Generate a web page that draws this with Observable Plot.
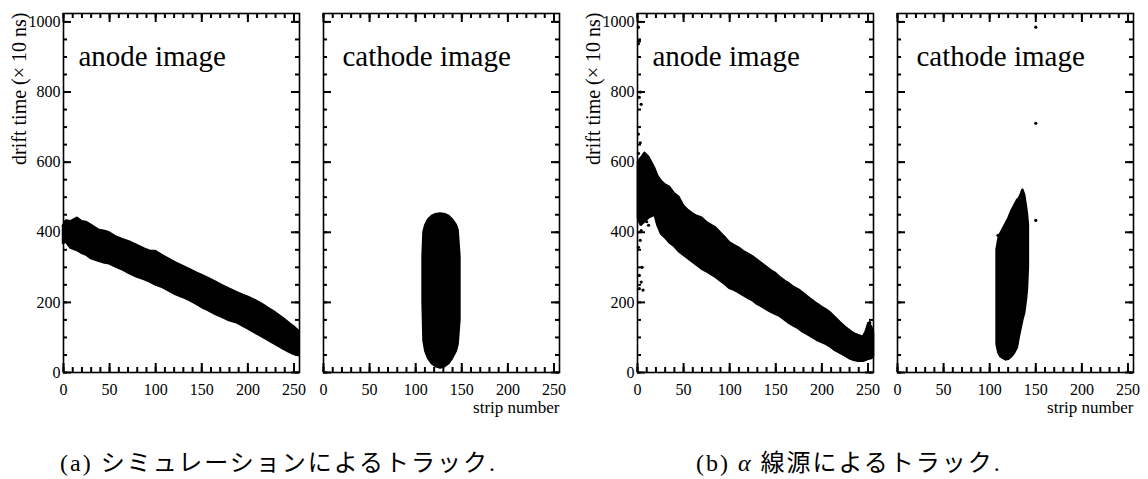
<!DOCTYPE html>
<html>
<head>
<meta charset="utf-8">
<script src="https://cdn.jsdelivr.net/npm/d3@7"></script>
<script src="https://cdn.jsdelivr.net/npm/@observablehq/plot@0.6"></script>
<style>
  body { margin: 0; background: #fff; }
  #wrap { position: relative; width: 1148px; height: 479px; background: #fff; color: #000; }
  #charts { position: absolute; left: 0; top: 0; width: 1148px; height: 420px; }
  #charts svg { position: absolute; left: 0; top: 0; pointer-events: none; }
  .caption {
    position: absolute; top: 450px; line-height: 26px; white-space: nowrap;
    font-family: "Liberation Serif", "Noto Sans CJK JP", serif; font-size: 24px; letter-spacing: 2px; color: #000;
  }
  .caption i { font-family: "Liberation Serif", serif; }
</style>
</head>
<body>
<div id="wrap">
  <div id="charts"></div>
  <div class="caption" style="left:60px">(a) シミュレーションによるトラック.</div>
  <div class="caption" style="left:696px">(b) <i>α</i> 線源によるトラック.</div>
</div>
<script>
// Axis ticks and titles
const stripMajor = [0, 50, 100, 150, 200, 250];
const stripMinor = d3.range(0, 256, 10);
const timeMajor = [0, 200, 400, 600, 800, 1000];
const timeMinor = d3.range(0, 1024, 50);
const yTitle = "drift time (× 10 ns)";
const xTitle = "strip number";

// Simulated track, anode strips: drift-time band covered by hits on each strip
const simAnodeStrip = [0, 3, 8, 15, 20, 25, 30, 38, 45, 50, 58, 65, 72, 80, 88, 95, 100, 108, 115, 122, 130, 138, 145, 150, 158, 165, 172, 180, 188, 195, 200, 208, 215, 222, 230, 238, 245, 250, 255];
const simAnodeLo    = [368, 372, 355, 348, 340, 335, 325, 318, 312, 310, 300, 292, 282, 272, 265, 257, 250, 242, 232, 222, 214, 204, 194, 186, 176, 166, 158, 148, 142, 132, 125, 113, 103, 92, 80, 68, 58, 52, 48];
const simAnodeHi    = [418, 432, 430, 440, 430, 428, 420, 406, 402, 398, 385, 378, 372, 362, 352, 345, 345, 332, 322, 312, 302, 292, 283, 277, 267, 258, 248, 238, 228, 220, 215, 205, 195, 183, 170, 155, 140, 130, 118];

// Simulated track, cathode strips
const simCathodeStrip = [108, 109, 111, 114, 118, 122, 127, 132, 136, 140, 144, 146, 148];
const simCathodeLo    = [200, 90, 60, 40, 25, 17, 13, 17, 25, 40, 60, 80, 150];
const simCathodeHi    = [330, 400, 420, 435, 445, 450, 452, 450, 445, 435, 420, 405, 330];

// Alpha-source track, anode strips
const alphaAnodeStrip = [1, 4, 8, 12, 16, 19, 22, 26, 30, 35, 40, 45, 50, 55, 60, 65, 70, 75, 80, 85, 90, 95, 100, 105, 110, 115, 120, 125, 130, 135, 140, 145, 150, 155, 160, 165, 170, 175, 180, 185, 190, 195, 200, 205, 210, 215, 220, 225, 230, 235, 240, 245, 248, 251, 254, 256];
const alphaAnodeLo    = [440, 420, 430, 440, 445, 450, 420, 395, 385, 370, 360, 345, 335, 325, 315, 305, 295, 288, 280, 272, 262, 252, 240, 235, 228, 220, 212, 205, 195, 188, 180, 172, 166, 160, 150, 140, 132, 125, 115, 108, 100, 92, 86, 80, 72, 62, 55, 48, 40, 35, 32, 32, 35, 38, 40, 45];
const alphaAnodeHi    = [600, 610, 625, 615, 595, 580, 560, 545, 535, 528, 510, 500, 475, 462, 452, 445, 440, 428, 420, 412, 398, 385, 370, 362, 355, 345, 338, 330, 320, 310, 300, 290, 282, 270, 260, 252, 242, 235, 225, 215, 205, 195, 186, 178, 168, 155, 142, 130, 120, 110, 105, 100, 115, 140, 130, 110];
// isolated hits near the edge strips
const alphaAnodeDotStrip = [1, 2, 1, 3, 2, 4, 1, 3, 1, 2, 4, 3, 1, 5, 2, 4, 2, 6, 10, 12, 252, 253];
const alphaAnodeDotTime  = [985, 945, 938, 800, 785, 765, 680, 655, 625, 434, 405, 377, 357, 300, 277, 258, 239, 235, 430, 420, 142, 125];

// Alpha-source track, cathode strips
const alphaCathodeStrip = [108, 110, 112, 115, 118, 121, 124, 127, 130, 132, 134, 136, 138, 140, 141, 142];
const alphaCathodeLo    = [80, 55, 45, 40, 36, 38, 45, 55, 70, 100, 125, 150, 170, 210, 240, 300];
const alphaCathodeHi    = [350, 380, 395, 410, 425, 440, 460, 475, 490, 495, 505, 520, 505, 470, 450, 420];
const alphaCathodeDotStrip = [150, 150, 150, 109];
const alphaCathodeDotTime  = [985, 711, 434, 391];

const band = (s, lo, hi) => s.map((strip, i) => ({strip, lo: lo[i], hi: hi[i]}));
const dots = (s, t) => s.map((strip, i) => ({strip, time: t[i]}));

const W = 1148, H = 420, TOP = 13, BOTTOM = 372;
const FRAME_H = BOTTOM - TOP;
const X_MAX = 256, Y_MAX = 1024;

// Inward tick marks on all four sides; a tick of `len` pixels expressed in data units
function ticks(values, side, len, frameW) {
  const o = {stroke: "black", strokeWidth: 2};
  const dy = len * Y_MAX / FRAME_H, dx = len * X_MAX / frameW;
  switch (side) {
    case "bottom": return Plot.ruleX(values, {...o, x: d => d, y1: 0, y2: dy});
    case "top": return Plot.ruleX(values, {...o, x: d => d, y1: Y_MAX - dy, y2: Y_MAX});
    case "left": return Plot.ruleY(values, {...o, y: d => d, x1: 0, x2: dx});
    case "right": return Plot.ruleY(values, {...o, y: d => d, x1: X_MAX - dx, x2: X_MAX});
  }
}

function panel({left, right, title, titleDx, data, hits, yLabels, xLabel}) {
  const fw = right - left;
  const marks = [
    Plot.areaY(data, {x: "strip", y1: "lo", y2: "hi", fill: "black", stroke: "black", strokeWidth: 2.5, strokeLinejoin: "round", curve: "linear"})
  ];
  if (hits) marks.push(Plot.dot(hits, {x: "strip", y: "time", r: 1.6, fill: "black"}));
  marks.push(
    ticks(stripMinor, "bottom", 5, fw), ticks(stripMajor, "bottom", 9, fw),
    ticks(stripMinor, "top", 5, fw), ticks(stripMajor, "top", 9, fw),
    ticks(timeMinor, "left", 4, fw), ticks(timeMajor, "left", 8, fw),
    ticks(timeMinor, "right", 4, fw), ticks(timeMajor, "right", 8, fw),
    Plot.axisX(stripMajor, {anchor: "bottom", tickSize: 0, tickPadding: 11, fontSize: 16, tickFormat: d => String(d), label: null}),
    Plot.frame({stroke: "black", strokeWidth: 1.6}),
    Plot.text([title], {frameAnchor: "top-left", dx: titleDx, dy: 52, lineAnchor: "bottom", textAnchor: "start", fontSize: 29})
  );
  if (yLabels) {
    marks.push(
      Plot.axisY(timeMajor, {anchor: "left", tickSize: 0, tickPadding: 3, fontSize: 16, tickFormat: d => String(d), label: null}),
      Plot.text([yTitle], {frameAnchor: "top-left", rotate: -90, textAnchor: "end", lineAnchor: "middle", dx: -44, dy: -1, fontSize: 20})
    );
  }
  if (xLabel) {
    marks.push(Plot.text([xTitle], {frameAnchor: "bottom-right", dy: 40, lineAnchor: "bottom", textAnchor: "end", fontSize: 17}));
  }
  return Plot.plot({
    width: W, height: H,
    marginLeft: left, marginRight: W - right, marginTop: TOP, marginBottom: H - BOTTOM,
    x: {domain: [0, X_MAX], label: null, axis: null},
    y: {domain: [0, Y_MAX], label: null, axis: null},
    style: {fontFamily: '"Liberation Serif", "DejaVu Serif", serif', fontSize: "16px", color: "black", background: "transparent", overflow: "visible"},
    marks
  });
}

const charts = document.getElementById("charts");
charts.append(
  panel({left: 63, right: 299, title: "anode image", titleDx: 15, data: band(simAnodeStrip, simAnodeLo, simAnodeHi), yLabels: true}),
  panel({left: 323, right: 559, title: "cathode image", titleDx: 19, data: band(simCathodeStrip, simCathodeLo, simCathodeHi), xLabel: true}),
  panel({left: 637, right: 873, title: "anode image", titleDx: 15, data: band(alphaAnodeStrip, alphaAnodeLo, alphaAnodeHi), hits: dots(alphaAnodeDotStrip, alphaAnodeDotTime), yLabels: true}),
  panel({left: 897, right: 1133, title: "cathode image", titleDx: 19, data: band(alphaCathodeStrip, alphaCathodeLo, alphaCathodeHi), hits: dots(alphaCathodeDotStrip, alphaCathodeDotTime), xLabel: true})
);
</script>
</body>
</html>
